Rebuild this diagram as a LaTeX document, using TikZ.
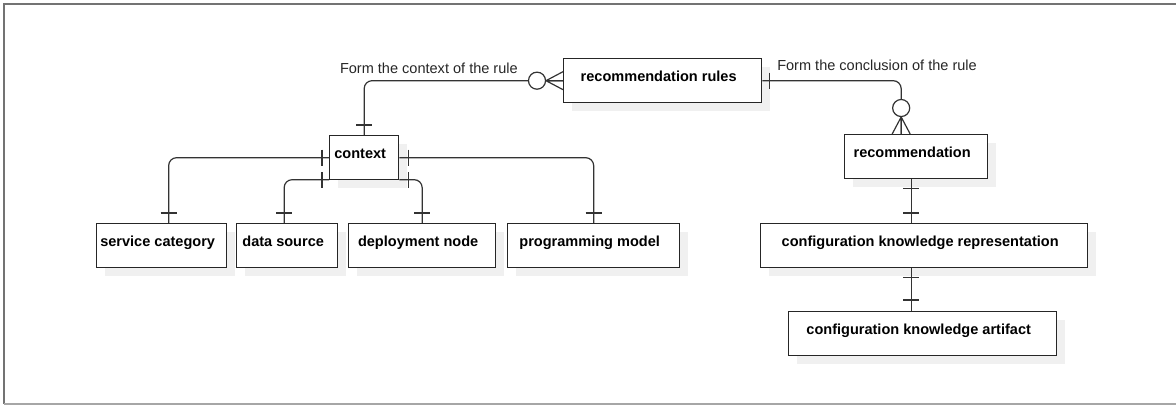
\documentclass[tikz,border=0pt]{standalone}
\usepackage{fontspec}
\setmainfont{Liberation Sans}
\usetikzlibrary{calc, shadows}

\begin{document}
\begin{tikzpicture}[x=0.75pt, y=-0.75pt,
		entity/.style={draw=black!85, line width=1pt, fill=white, anchor=north west,
			font=\fontsize{10.9}{13}\selectfont\bfseries, inner xsep=4pt, inner ysep=9.25pt,
			text height=8pt, text depth=6.5pt, execute at begin node={\hspace*{-6pt}},
			general shadow={fill=black!6, shadow xshift=6pt, shadow yshift=-6pt}},
		conn/.style={draw=black!80, line width=0.9pt, rounded corners=6pt},
		lbl/.style={font=\fontsize{10.9}{13}\selectfont, text=black!85, inner sep=0pt},
		onebar/.pic={\draw[black!80, line width=0.9pt] (0,-8) -- (0,8);},
		zeromany/.pic={\draw[black!80, line width=0.9pt] (0,-9) -- (17,0) -- (0,9) (0,0) -- (17,0);
			\draw[black!80, line width=0.9pt, fill=white] (26,0) circle[radius=6.4pt];}]
	
	\useasboundingbox (0,0) rectangle (1176,405);
	\draw[black!55, line width=1.5pt] (1176,4) -- (4,4) -- (4,404);
	\draw[black!35, line width=1.2pt] (4,404) -- (1176,404);
	
	% entities
	\node[entity, minimum width=148.5pt] (rules) at (563,58) {recommendation rules};
	\node[entity, minimum width=51.75pt] (ctx) at (329,135) {context};
	\node[entity, minimum width=97.5pt] (svc) at (96,223) {service category};
	\node[entity, minimum width=75.75pt] (dsrc) at (236,223) {data source};
	\node[entity, minimum width=110.25pt] (dep) at (348,223) {deployment node};
	\node[entity, minimum width=129pt] (prog) at (507,223) {programming model};
	\node[entity, minimum width=107.25pt] (rec) at (844,134) {recommendation};
	\node[entity, minimum width=245.25pt] (ckr) at (760,223) {configuration knowledge representation};
	\node[entity, minimum width=201pt] (cka) at (788,311) {configuration knowledge artifact};
	
	% relations
	\draw[conn] (rules.west) -| (ctx.north);
	\draw[conn] (rules.east) -| ($(rec.north)+(-15,0)$);
	\draw[conn] (ctx.west) -| ($(svc.north)+(7,0)$);
	\draw[conn] ([yshift=0.5pt]ctx.south west) -| ($(dsrc.north)+(-3,0)$);
	\draw[conn] ([yshift=0.5pt]ctx.south east) -| (dep.north);
	\draw[conn] (ctx.east) -| (prog.north);
	\coordinate (colx) at ($(rec.south)+(-5,0)$);
	\draw[conn] (colx) -- (colx |- ckr.north);
	\draw[conn] (colx |- ckr.south) -- (colx |- cka.north);
	
	\node[lbl, anchor=base east] (lblctx) at (518,73) {Form the context of the rule};
	\node[lbl, anchor=base west] (lblcon) at (777,70) {Form the conclusion of the rule};
	
	% cardinality marks
	\pic[rotate=180] at (rules.west) {zeromany};
	\pic[rotate=90] at ($(rec.north)+(-15,0)$) {zeromany};
	\pic[rotate=90] at ($(ctx.north)+(0,-10)$) {onebar};
	\pic at ($(rules.east)+(7,0)$) {onebar};
	\pic at ($(ctx.west)+(-7,0)$) {onebar};
	\pic at ($(ctx.south west)+(-7,0)$) {onebar};
	\pic at ($(ctx.east)+(9,0)$) {onebar};
	\pic at ($(ctx.south east)+(9,0)$) {onebar};
	\pic[rotate=90] at ($(svc.north)+(7,-10)$) {onebar};
	\pic[rotate=90] at ($(dsrc.north)+(-3,-10)$) {onebar};
	\pic[rotate=90] at ($(dep.north)+(0,-10)$) {onebar};
	\pic[rotate=90] at ($(prog.north)+(0,-10)$) {onebar};
	\pic[rotate=90] at ($(colx)+(0,9)$) {onebar};
	\pic[rotate=90] at ($(colx |- ckr.north)+(0,-10)$) {onebar};
	\pic[rotate=90] at ($(colx |- ckr.south)+(0,9)$) {onebar};
	\pic[rotate=90] at ($(colx |- cka.north)+(0,-11)$) {onebar};
	
\end{tikzpicture}
\end{document}
